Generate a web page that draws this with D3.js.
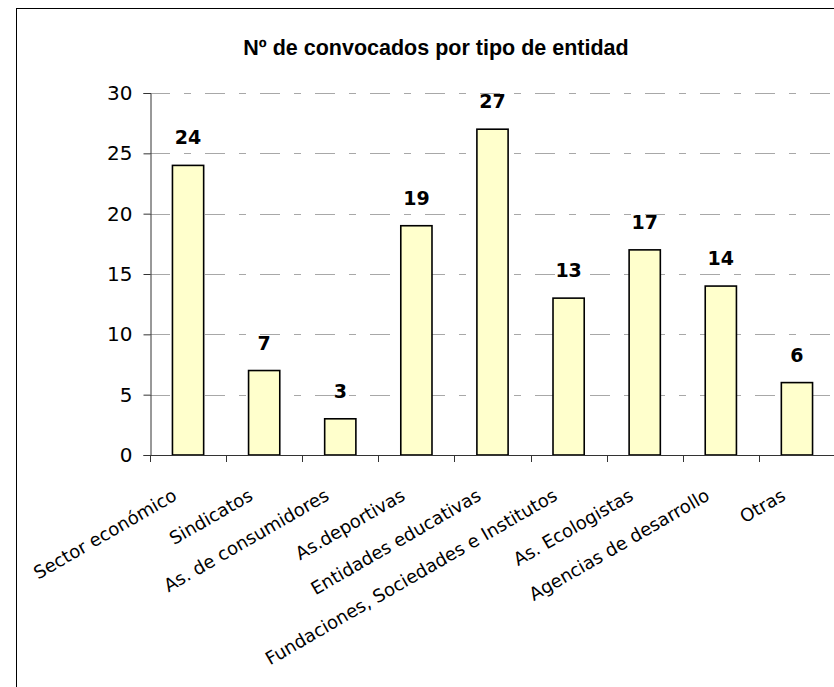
<!DOCTYPE html>
<html>
<head>
<meta charset="utf-8">
<script src="https://cdn.jsdelivr.net/npm/d3@7"></script>
<style>
  html, body { margin: 0; padding: 0; background: #fff; }
  svg { display: block; }
</style>
</head>
<body>
<svg id="chart" width="834" height="687"></svg>
<script>
const categories = [
  "Sector económico", "Sindicatos", "As. de consumidores", "As.deportivas",
  "Entidades educativas", "Fundaciones, Sociedades e Institutos",
  "As. Ecologistas", "Agencias de desarrollo", "Otras"
];
const values = [24, 7, 3, 19, 27, 13, 17, 14, 6];
const yTicks = [0, 5, 10, 15, 20, 25, 30];
const title = "Nº de convocados por tipo de entidad";

const svg = d3.select("#chart");

// outer frame
svg.append("rect")
  .attr("x", 16.5).attr("y", 8.5)
  .attr("width", 860).attr("height", 700)
  .attr("fill", "#fff").attr("stroke", "#000").attr("stroke-width", 1);

const x = d3.scaleBand().domain(categories).range([150, 835]).paddingInner(0.59).paddingOuter(0.295);
const xEdges = d3.scaleLinear().domain([0, categories.length]).range([150, 835]);
const y = d3.scaleLinear().domain([0, 30]).range([455, 93]);

// title
svg.append("text")
  .attr("x", 436).attr("y", 55)
  .attr("text-anchor", "middle")
  .attr("font-family", "Liberation Sans, Arial, sans-serif")
  .attr("font-weight", "bold")
  .attr("font-size", 21.5)
  .attr("fill", "#000")
  .text(title);

// gridlines
svg.append("g").selectAll("line")
  .data(yTicks.filter(d => d > 0))
  .join("line")
  .attr("x1", 150).attr("x2", 834)
  .attr("y1", d => Math.round(y(d)) + 0.5).attr("y2", d => Math.round(y(d)) + 0.5)
  .attr("stroke", "#a8a8a8").attr("stroke-width", 1)
  .attr("stroke-dasharray", "20,14,7,14");

// bars
svg.append("g").selectAll("rect")
  .data(values)
  .join("rect")
  .attr("x", (d, i) => x(categories[i]))
  .attr("y", d => y(d))
  .attr("width", x.bandwidth())
  .attr("height", d => y(0) - y(d))
  .attr("fill", "#FFFFCC")
  .attr("stroke", "#000")
  .attr("stroke-width", 1.6);

// y axis
const yAxis = d3.axisLeft(y).tickValues(yTicks).tickSize(7).tickPadding(11);
const gy = svg.append("g").attr("transform", "translate(150.5,0)").call(yAxis);
gy.select(".domain").attr("stroke", "#333");
gy.selectAll(".tick line").attr("stroke", "#333");
gy.selectAll(".tick text")
  .attr("font-family", "DejaVu Sans, sans-serif")
  .attr("font-size", 20)
  .attr("fill", "#000");

// x axis (tick marks at category edges)
const gx = svg.append("g");
gx.append("line")
  .attr("x1", 150).attr("x2", 834)
  .attr("y1", 455.5).attr("y2", 455.5)
  .attr("stroke", "#333");
gx.selectAll("line.tk")
  .data(d3.range(0, categories.length + 1))
  .join("line")
  .attr("class", "tk")
  .attr("x1", d => Math.round(xEdges(d)) + 0.5).attr("x2", d => Math.round(xEdges(d)) + 0.5)
  .attr("y1", 455).attr("y2", 462)
  .attr("stroke", "#333");

// category labels
svg.append("g").selectAll("text")
  .data(categories)
  .join("text")
  .attr("transform", d => `translate(${x(d) + x.bandwidth() / 2 - 10},499) rotate(-30)`)
  .attr("text-anchor", "end")
  .attr("font-family", "DejaVu Sans, sans-serif")
  .attr("font-size", 18)
  .attr("fill", "#000")
  .text(d => d);

// value labels
svg.append("g").selectAll("text")
  .data(values)
  .join("text")
  .attr("x", (d, i) => x(categories[i]) + x.bandwidth() / 2)
  .attr("y", d => y(d) - 21)
  .attr("text-anchor", "middle")
  .attr("font-family", "DejaVu Sans, sans-serif")
  .attr("font-weight", "bold")
  .attr("font-size", 19)
  .attr("fill", "#000")
  .text(d => d);
</script>
</body>
</html>
